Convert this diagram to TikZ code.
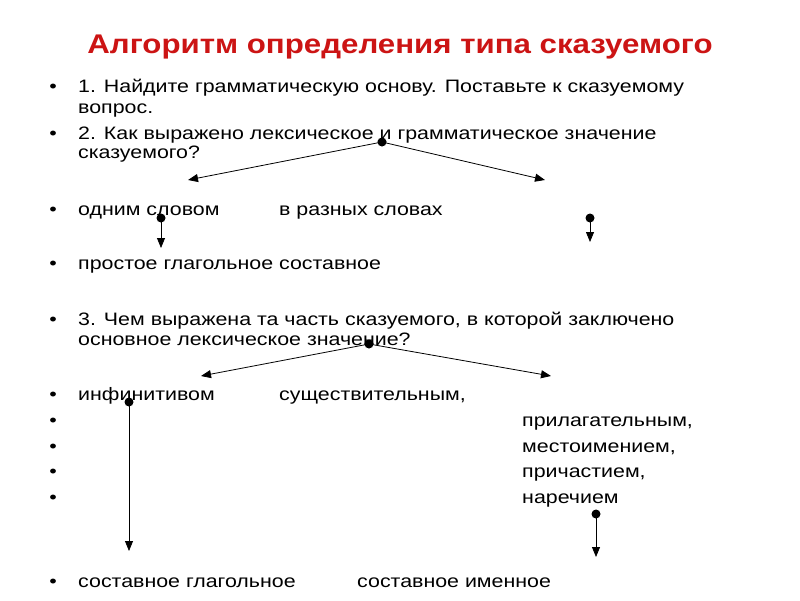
\documentclass[tikz,border=0pt]{standalone}
\usepackage{fontspec}
\setmainfont{Liberation Sans}[FakeStretch=1.188]
\newfontfamily\titlefont{Liberation Sans}[FakeStretch=1.157]
\usetikzlibrary{arrows.meta}
\definecolor{titlered}{RGB}{204,20,20}
\begin{document}
\begin{tikzpicture}[x=1pt,y=-1pt,
  txt/.style={anchor=base west,inner sep=0pt,font=\fontsize{18}{21}\selectfont},
  blt/.style={anchor=base,inner sep=0pt,font=\fontsize{18}{21}\selectfont},
  ttl/.style={anchor=base,inner sep=0pt,font=\titlefont\fontsize{27}{30}\selectfont\bfseries,text=titlered},
  dotn/.style={circle,fill=black,inner sep=0pt,minimum size=9pt},
  arr/.style={line width=0.8pt,-{Triangle[length=10pt,width=8pt]},shorten <=-4.5pt}]
\useasboundingbox (0,0) rectangle (800,600);
\fill[white] (0,0) rectangle (800,600);
\node[ttl] (title) at (400,53) {Алгоритм определения типа сказуемого};
% bullets
\foreach \n/\y in {b1/92,b2/139,b3/215,b4/269,b5/325,b6/400,b7/426,b8/452,b9/477,b10/503,b11/587}
  \node[blt] (\n) at (53,\y) {•};
% texts
\node[txt] (l1a) at (78,92) {1. Найдите грамматическую основу. Поставьте к сказуемому};
\node[txt] (l1b) at (78,113) {вопрос.};
\node[txt] (l2a) at (78,139) {2. Как выражено лексическое и грамматическое значение};
\node[txt] (l2b) at (78,158) {сказуемого?};
\node[txt] (l3a) at (78,215) {одним словом};
\node[txt] (l3b) at (279,215) {в разных словах};
\node[txt] (l4) at (78,269) {простое глагольное составное};
\node[txt] (l5a) at (78,325) {3. Чем выражена та часть сказуемого, в которой заключено};
\node[txt] (l5b) at (78,345) {основное лексическое значение?};
\node[txt] (l6a) at (78,400) {инфинитивом};
\node[txt] (l6b) at (279,400) {существительным,};
\node[txt] (r1) at (522,426) {прилагательным,};
\node[txt] (r2) at (522,452) {местоимением,};
\node[txt] (r3) at (522,477) {причастием,};
\node[txt] (r4) at (522,503) {наречием};
\node[txt] (l7a) at (78,587) {составное глагольное};
\node[txt] (l7b) at (357,587) {составное именное};
% dots
\node[dotn] (d1) at (382,142) {};
\node[dotn] (d2) at (161,218) {};
\node[dotn] (d3) at (590,218) {};
\node[dotn] (d4) at (369,344) {};
\node[dotn] (d5) at (129,402) {};
\node[dotn] (d6) at (596,514) {};
% arrow tips
\coordinate (t1) at (188,180);
\coordinate (t2) at (545,180);
\coordinate (t3) at (161,248);
\coordinate (t4) at (590,242);
\coordinate (t5) at (201,376);
\coordinate (t6) at (551,376);
\coordinate (t7) at (129,551);
\coordinate (t8) at (596,557);
\draw[arr] (d1.center) -- (t1);
\draw[arr] (d1.center) -- (t2);
\draw[arr] (d2.center) -- (t3);
\draw[arr] (d3.center) -- (t4);
\draw[arr] (d4.center) -- (t5);
\draw[arr] (d4.center) -- (t6);
\draw[arr] (d5.center) -- (t7);
\draw[arr] (d6.center) -- (t8);
\end{tikzpicture}
\end{document}
